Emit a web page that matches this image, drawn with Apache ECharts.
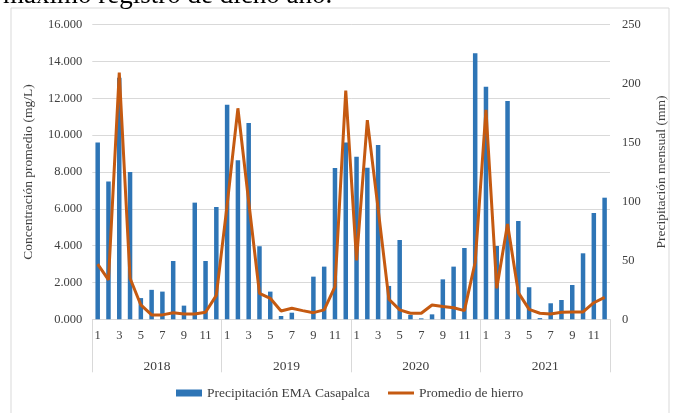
<!DOCTYPE html>
<html>
<head>
<meta charset="utf-8">
<script src="https://cdn.jsdelivr.net/npm/echarts@6/dist/echarts.min.js"></script>
<style>
html,body{margin:0;padding:0;background:#fff;}
#c{width:676px;height:413px;}
</style>
</head>
<body>
<div id="c"></div>
<script>
var years = ['2018', '2019', '2020', '2021'];
var monthLabels = ['1','2','3','4','5','6','7','8','9','10','11','12'];
// Precipitación EMA Casapalca (mm)
var precip2018 = [150, 117, 205, 125, 18, 25, 23.5, 49.5, 11.6, 99, 49.5, 95.3];
var precip2019 = [182, 135, 166.6, 62, 23.5, 2.8, 5.6, 0, 36.2, 44.7, 128.4, 150];
var precip2020 = [138, 128.7, 148, 28.3, 67.3, 3.7, 0.8, 4.2, 33.9, 44.7, 60.5, 225.7];
var precip2021 = [197.4, 62.2, 185.3, 83.4, 27.2, 1, 13.6, 16.4, 29.1, 56, 90.2, 103.2];
// Promedio de hierro (mg/L)
var iron2018 = [3.0, 2.14, 13.4, 2.23, 0.78, 0.24, 0.24, 0.36, 0.29, 0.29, 0.38, 1.3];
var iron2019 = [6.2, 11.46, 6.4, 1.41, 1.14, 0.45, 0.6, 0.47, 0.36, 0.51, 1.77, 12.42];
var iron2020 = [3.2, 10.82, 6.0, 1.09, 0.51, 0.33, 0.33, 0.78, 0.69, 0.63, 0.47, 3.1];
var iron2021 = [11.37, 1.68, 5.18, 1.45, 0.54, 0.33, 0.29, 0.38, 0.40, 0.40, 0.90, 1.19];
var leftTicks = [0, 16, 2];
var rightTicks = [0, 250, 50];

var months = [];
years.forEach(function(){ months = months.concat(monthLabels); });
var precip = [].concat(precip2018, precip2019, precip2020, precip2021);
var iron = [].concat(iron2018, iron2019, iron2020, iron2021);

var FONT = 'Liberation Serif';
var TXT = '#404040';
var GRID = '#D9D9D9';
var BLUE = '#2E75B6';
var ORANGE = '#C55A11';

var chart = echarts.init(document.getElementById('c'), null, {renderer: 'canvas'});
chart.setOption({
  animation: false,
  backgroundColor: '#fff',
  textStyle: {fontFamily: FONT},
  graphic: [
    {type: 'rect', shape: {x: 11, y: 8, width: 658, height: 420}, style: {fill: 'none', stroke: GRID, lineWidth: 1}, z: -1},
    {type: 'text', x: 3, y: 9, style: {text: 'máximo registro de dicho año.', font: '27px "Liberation Serif"', fill: '#000', verticalAlign: 'bottom', align: 'left'}}
  ],
  grid: {left: 92.3, right: 61.7, top: 24.7, bottom: 93.7, containLabel: false},
  legend: [
    {
      left: 171, top: 381,
      itemWidth: 26, itemHeight: 7, itemGap: 24,
      textStyle: {fontFamily: FONT, fontSize: 13.5, color: TXT},
      data: [{name: 'Precipitación EMA Casapalca', icon: 'rect'}]
    },
    {
      left: 383, top: 381,
      itemWidth: 26, itemHeight: 3, itemGap: 24,
      textStyle: {fontFamily: FONT, fontSize: 13.5, color: TXT},
      data: [{name: 'Promedio de hierro', icon: 'rect', itemStyle: {color: ORANGE}}]
    }
  ],
  xAxis: [
    {
      type: 'category', data: months, position: 'bottom',
      axisLine: {lineStyle: {color: GRID}},
      axisTick: {show: false},
      axisLabel: {interval: 1, margin: 10, fontFamily: FONT, fontSize: 12.5, color: TXT}
    },
    {
      type: 'category', data: years, position: 'bottom', gridIndex: 0,
      axisLine: {show: false},
      axisTick: {show: true, interval: 0, length: 53, lineStyle: {color: GRID}},
      axisLabel: {margin: 40, fontFamily: FONT, fontSize: 13.5, color: TXT}
    }
  ],
  yAxis: [
    {
      type: 'value', min: leftTicks[0], max: leftTicks[1], interval: leftTicks[2],
      name: 'Concentración promedio (mg/L)', nameLocation: 'middle', nameGap: 57, nameRotate: 90,
      nameTextStyle: {fontFamily: FONT, fontSize: 13.5, color: TXT},
      axisLine: {show: false}, axisTick: {show: false},
      axisLabel: {margin: 10, fontFamily: FONT, fontSize: 12.5, color: TXT, formatter: function(v){ return v.toFixed(3); }},
      splitLine: {lineStyle: {color: GRID}}
    },
    {
      type: 'value', min: rightTicks[0], max: rightTicks[1], interval: rightTicks[2], position: 'right',
      name: 'Precipitación mensual (mm)', nameLocation: 'middle', nameGap: 44, nameRotate: 90,
      nameTextStyle: {fontFamily: FONT, fontSize: 13.5, color: TXT},
      axisLine: {show: false}, axisTick: {show: false},
      axisLabel: {margin: 12, fontFamily: FONT, fontSize: 12.5, color: TXT},
      splitLine: {show: false}
    }
  ],
  series: [
    {
      name: 'Precipitación EMA Casapalca', type: 'bar', xAxisIndex: 0, yAxisIndex: 1,
      data: precip, barWidth: 4.5,
      itemStyle: {color: BLUE}
    },
    {
      name: 'Promedio de hierro', type: 'line', xAxisIndex: 0, yAxisIndex: 0,
      data: iron, symbol: 'none', showSymbol: false,
      lineStyle: {color: ORANGE, width: 3}, itemStyle: {color: ORANGE},
      z: 5
    }
  ]
});
</script>
</body>
</html>
